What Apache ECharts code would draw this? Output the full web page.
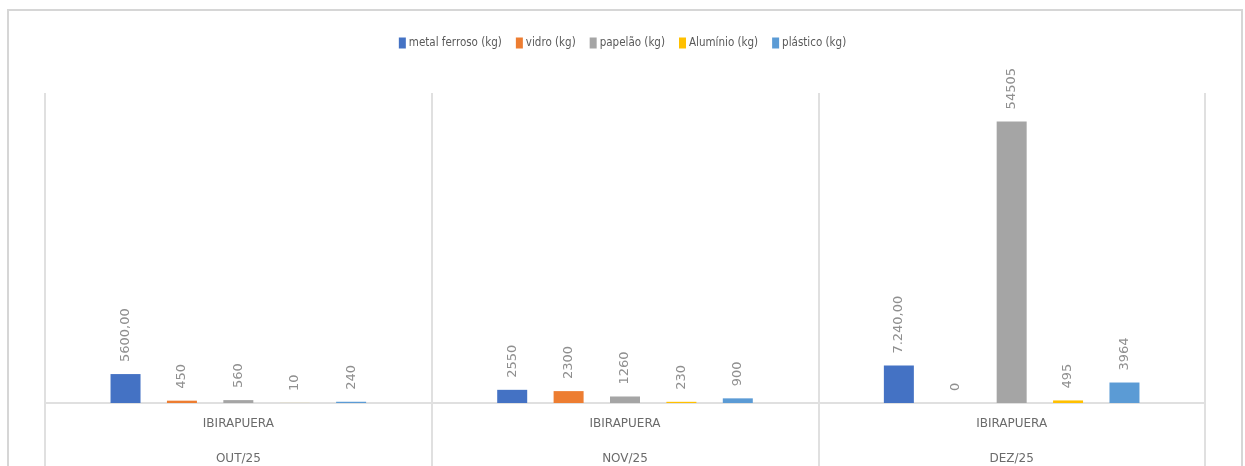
<!DOCTYPE html>
<html>
<head>
<meta charset="utf-8">
<script src="https://cdn.jsdelivr.net/npm/echarts@6/dist/echarts.min.js"></script>
<style>html,body{margin:0;padding:0;background:#fff;}#c{width:1245px;height:466px;}</style>
</head>
<body>
<div id="c"></div>
<script>
const sites = ['IBIRAPUERA', 'IBIRAPUERA', 'IBIRAPUERA'];
const months = ['OUT/25', 'NOV/25', 'DEZ/25'];
const seriesNames = ['metal ferroso (kg)', 'vidro (kg)', 'papelão (kg)', 'Alumínio (kg)', 'plástico (kg)'];
const metalFerroso = [5600, 2550, 7240];
const vidro = [450, 2300, 0];
const papelao = [560, 1260, 54505];
const aluminio = [10, 230, 495];
const plastico = [240, 900, 3964];
const metalFerrosoLabels = ['5600,00', '2550', '7.240,00'];
const vidroLabels = ['450', '2300', '0'];
const papelaoLabels = ['560', '1260', '54505'];
const aluminioLabels = ['10', '230', '495'];
const plasticoLabels = ['240', '900', '3964'];

const values = [metalFerroso, vidro, papelao, aluminio, plastico];
const labels = [metalFerrosoLabels, vidroLabels, papelaoLabels, aluminioLabels, plasticoLabels];
const colors = ['#4472C4', '#ED7D31', '#A5A5A5', '#FFC000', '#5B9BD5'];
const lineColor = '#e0e0e0';

const chart = echarts.init(document.getElementById('c'), null, {renderer: 'canvas'});
chart.setOption({
  animation: false,
  backgroundColor: '#fff',
  graphic: [{
    type: 'rect', silent: true,
    shape: {x: 8, y: 10, width: 1234, height: 480},
    style: {fill: 'none', stroke: '#d6d6d6', lineWidth: 2}
  }],
  legend: {
    top: 32, left: 632, 
    itemWidth: 7, itemHeight: 11, itemGap: 14,
    icon: 'rect',
    textStyle: {fontFamily: '"Liberation Sans Narrow", "DejaVu Sans Condensed", sans-serif', fontSize: 11.5, color: '#595959', padding: [0, 0, 0, -2]},
    data: seriesNames
  },
  grid: {left: 45, right: 40, top: 93, bottom: 63, containLabel: false},
  xAxis: [{
    type: 'category', position: 'bottom', data: sites, boundaryGap: true,
    axisLine: {show: true, lineStyle: {color: lineColor, width: 2}},
    axisTick: {show: true, length: 63, interval: 0, lineStyle: {color: lineColor, width: 2}},
    splitLine: {show: true, interval: 0, lineStyle: {color: lineColor, width: 2}},
    axisLabel: {margin: 15, interval: 0, color: '#6b6b6b', fontFamily: '"DejaVu Sans", sans-serif', fontSize: 12}
  }, {
    type: 'category', position: 'bottom', data: months, boundaryGap: true,
    axisLine: {show: false}, axisTick: {show: false}, splitLine: {show: false},
    axisLabel: {margin: 50, interval: 0, color: '#6b6b6b', fontFamily: '"DejaVu Sans", sans-serif', fontSize: 12}
  }],
  yAxis: {type: 'value', min: 0, max: 60000, show: false, splitLine: {show: false}},
  series: seriesNames.map((name, i) => ({
    name: name, type: 'bar', xAxisIndex: 0,
    data: values[i],
    barWidth: 30, barGap: '88%',
    itemStyle: {color: colors[i]},
    label: {
      show: true, position: 'top', distance: 12, rotate: 90,
      align: 'left', verticalAlign: 'middle',
      color: '#8f8f8f', fontFamily: '"DejaVu Sans", sans-serif', fontSize: 13,
      formatter: p => labels[i][p.dataIndex]
    }
  }))
});
chart.setOption({legend: {left: 'center'}});
</script>
</body>
</html>
